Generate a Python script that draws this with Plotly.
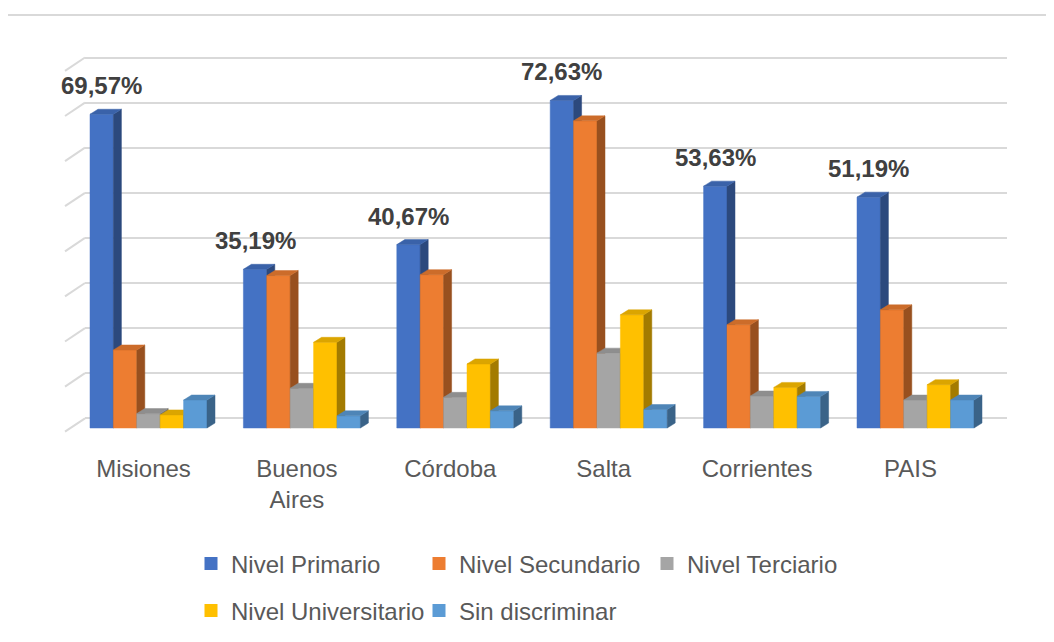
import plotly.graph_objects as go

# ---------------- data ----------------
categories = ["Misiones", "Buenos Aires", "Córdoba", "Salta", "Corrientes", "PAIS"]
category_tick_text = ["Misiones", "Buenos<br>Aires", "Córdoba", "Salta", "Corrientes", "PAIS"]
series_names = ["Nivel Primario", "Nivel Secundario", "Nivel Terciario",
                "Nivel Universitario", "Sin discriminar"]
nivel_primario = [69.57, 35.19, 40.67, 72.63, 53.63, 51.19]
nivel_secundario = [17.3, 33.8, 34.0, 68.1, 22.9, 26.2]
nivel_terciario = [3.2, 8.8, 6.8, 16.6, 7.1, 6.2]
nivel_universitario = [2.9, 19.0, 14.2, 25.1, 9.0, 9.6]
sin_discriminar = [6.2, 2.7, 3.8, 4.1, 7.0, 6.2]
grid_values = [0, 10, 20, 30, 40, 50, 60, 70, 80]

series_values = [nivel_primario, nivel_secundario, nivel_terciario,
                 nivel_universitario, sin_discriminar]
series_colors = ["#4472C4", "#ED7D31", "#A5A5A5", "#FFC000", "#5B9BD5"]

# ---------------- geometry / style ----------------
OFF = 8                   # page body margin offset
FIG_W, FIG_H = 1054 - OFF, 642 - OFF
PX_PER_CAT = 153.4        # horizontal pixels per category
CAT0_PX = 148.5 - OFF     # pixel x of first category centre
BASE_PX = 428.0 - OFF     # pixel y of bar base (front)
PX_PER_PCT = 4.51         # vertical pixels per percentage point
BAR_W = 23.4 / PX_PER_CAT
DEPTH_X = 8.0 / PX_PER_CAT
DEPTH_Y = 5.0 / PX_PER_PCT
WALL_LEFT_PX, WALL_RIGHT_PX, WALL_BASE_PX = 85.0 - OFF, 1007.0 - OFF, 418.3 - OFF
FLOOR_FRONT_X_PX, FLOOR_FRONT_Y_PX = 65.0 - OFF, 431.7 - OFF
LABEL_SHIFT = -5.0 / PX_PER_CAT
AXIS_LABEL_PY = 443.5
FONT = "Liberation Sans, Arial, sans-serif"
GRID_COLOR = "#D9D9D9"


def shade(hex_color, f):
    h = hex_color.lstrip("#")
    r, g, b = (int(h[i:i + 2], 16) for i in (0, 2, 4))
    return "rgb(%d,%d,%d)" % (round(r * f), round(g * f), round(b * f))


def px_to_x2(px):
    return (px - CAT0_PX) / PX_PER_CAT


def py_to_y2(py):
    return (BASE_PX - py) / PX_PER_PCT


x2_range = [px_to_x2(0), px_to_x2(FIG_W)]
y2_range = [py_to_y2(FIG_H), py_to_y2(0)]
y_wall_range = [(WALL_BASE_PX - FIG_H) / PX_PER_PCT, WALL_BASE_PX / PX_PER_PCT]

n_series = len(series_names)
fig = go.Figure()

# legend proxies (on the wall subplot)
for j, name in enumerate(series_names):
    fig.add_trace(go.Scatter(
        x=[None], y=[None], mode="markers", name=name,
        marker=dict(symbol="square", size=13, color=series_colors[j]),
        xaxis="x", yaxis="y", legend="legend" if j < 3 else "legend2",
        hoverinfo="skip"))

# left side-wall diagonal gridlines
wall_dy = py_to_y2(WALL_BASE_PX)
floor_dy = py_to_y2(FLOOR_FRONT_Y_PX)
dx_front = px_to_x2(FLOOR_FRONT_X_PX)
dx_back = px_to_x2(WALL_LEFT_PX)
diag_x, diag_y = [], []
for v in grid_values:
    diag_x += [dx_front, dx_back, None]
    diag_y += [v + floor_dy, v + wall_dy, None]
fig.add_trace(go.Scatter(x=diag_x, y=diag_y, mode="lines",
                         line=dict(color=GRID_COLOR, width=2),
                         xaxis="x2", yaxis="y2", showlegend=False, hoverinfo="skip"))

# 3D bars: front, side, top faces, drawn series by series (left to right)
for j in range(n_series):
    vals = series_values[j]
    fx, fy, sx, sy, tx, ty = [], [], [], [], [], []
    for i, h in enumerate(vals):
        xc = i + (j - (n_series - 1) / 2) * BAR_W
        xl, xr = xc - BAR_W / 2, xc + BAR_W / 2
        fx += [xl, xr, xr, xl, xl, None]
        fy += [0, 0, h, h, 0, None]
        sx += [xr, xr + DEPTH_X, xr + DEPTH_X, xr, xr, None]
        sy += [0, DEPTH_Y, h + DEPTH_Y, h, 0, None]
        tx += [xl, xr, xr + DEPTH_X, xl + DEPTH_X, xl, None]
        ty += [h, h, h + DEPTH_Y, h + DEPTH_Y, h, None]
    for xs, ys, col in ((fx, fy, series_colors[j]),
                        (sx, sy, shade(series_colors[j], 0.64)),
                        (tx, ty, shade(series_colors[j], 0.86))):
        fig.add_trace(go.Scatter(x=xs, y=ys, mode="lines", fill="toself",
                                 fillcolor=col, line=dict(color=col, width=0.5),
                                 xaxis="x2", yaxis="y2", showlegend=False,
                                 hoverinfo="skip"))

# data labels for Nivel Primario
annotations = []
for i, v in enumerate(nivel_primario):
    xc = i + (0 - (n_series - 1) / 2) * BAR_W
    annotations.append(dict(
        x=xc, y=v, xref="x2", yref="y2", showarrow=False,
        text=("%.2f" % v).replace(".", ",") + "%",
        yanchor="bottom", xanchor="center", yshift=13,
        font=dict(family=FONT, size=24, color="#404040", weight="bold")))

legend_common = dict(orientation="h", xanchor="left", yanchor="middle",
                     entrywidth=183, entrywidthmode="pixels",
                     bgcolor="rgba(0,0,0,0)", borderwidth=0,
                     font=dict(family=FONT, size=24, color="#595959"),
                     itemclick=False, itemdoubleclick=False)

fig.update_layout(
    width=FIG_W, height=FIG_H,
    margin=dict(l=0, r=0, t=0, b=0),
    paper_bgcolor="white", plot_bgcolor="rgba(0,0,0,0)",
    font=dict(family=FONT, color="#595959"),
    showlegend=True,
    legend=dict(x=183 / FIG_W, y=(FIG_H - (564 - OFF)) / FIG_H, **legend_common),
    legend2=dict(x=183 / FIG_W, y=(FIG_H - (611 - OFF)) / FIG_H, **legend_common),
    xaxis=dict(domain=[WALL_LEFT_PX / FIG_W, WALL_RIGHT_PX / FIG_W], range=[0, 1],
               showgrid=False, zeroline=False, showline=False,
               showticklabels=False, ticks="", fixedrange=True),
    yaxis=dict(domain=[0, 1], range=y_wall_range, anchor="x",
               tickmode="array", tickvals=grid_values, showticklabels=False,
               ticks="", showgrid=True, gridcolor=GRID_COLOR, gridwidth=2,
               zeroline=False, showline=False, fixedrange=True),
    xaxis2=dict(domain=[0, 1], range=x2_range, anchor="free",
                position=(FIG_H - AXIS_LABEL_PY) / FIG_H,
                tickmode="array",
                tickvals=[i + LABEL_SHIFT for i in range(len(categories))],
                ticktext=category_tick_text, ticks="",
                tickfont=dict(family=FONT, size=24, color="#595959"),
                showgrid=False, zeroline=False, showline=False, fixedrange=True),
    yaxis2=dict(domain=[0, 1], range=y2_range, anchor="x2", visible=False,
                fixedrange=True),
    annotations=annotations,
    shapes=[dict(type="rect", xref="paper", yref="paper",
                 x0=(5 - OFF) / FIG_W, x1=1.1, y0=-0.1,
                 y1=(FIG_H - (15 - OFF)) / FIG_H,
                 line=dict(color=GRID_COLOR, width=2), fillcolor="rgba(0,0,0,0)",
                 layer="below")],
)

fig.write_html("out.html")
